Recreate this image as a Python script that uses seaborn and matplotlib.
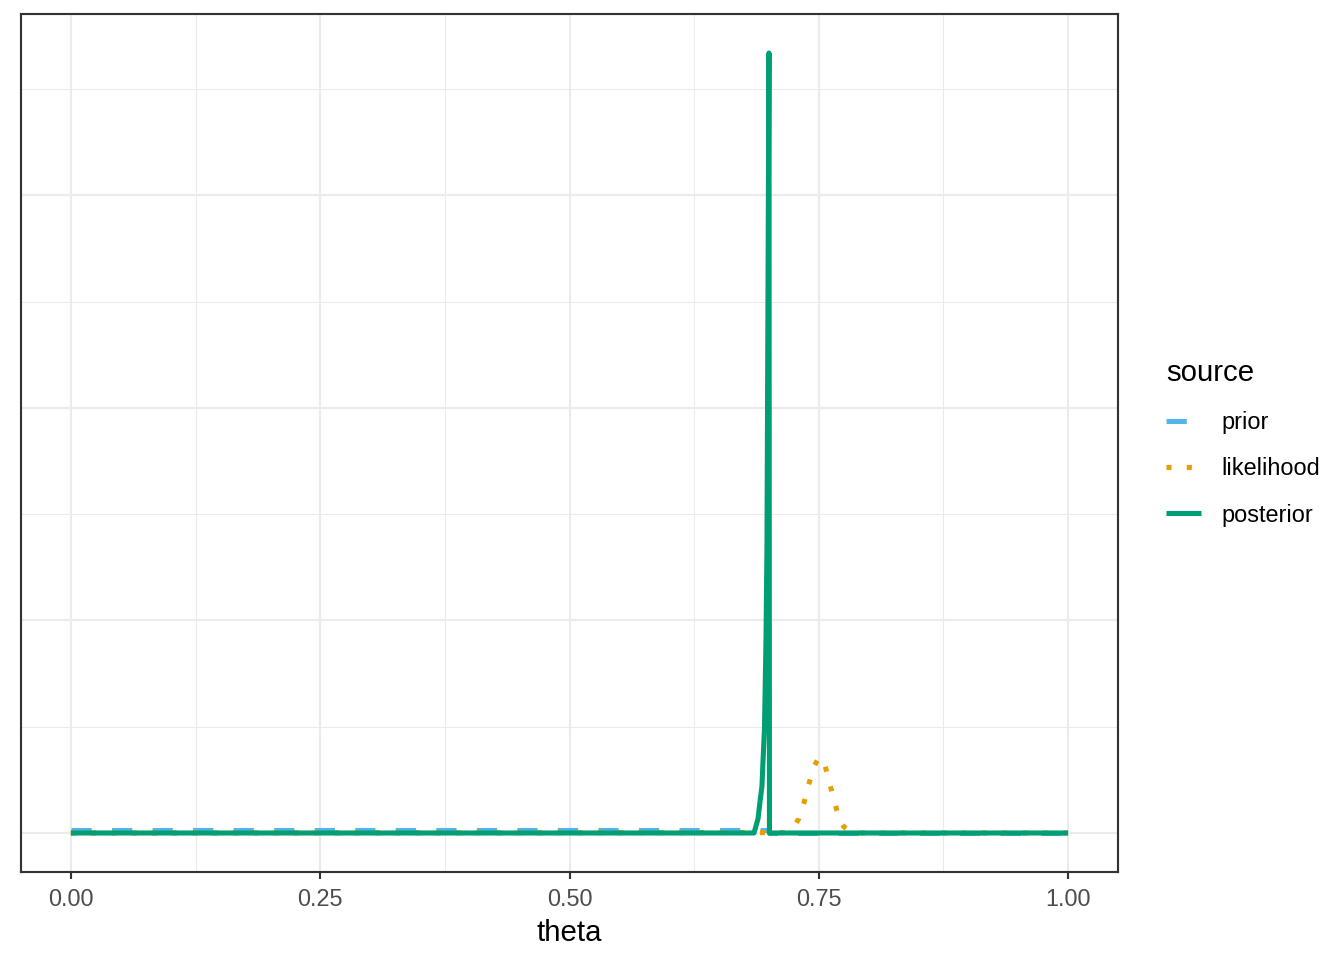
import pandas as pd
import matplotlib
matplotlib.use('Agg')
import matplotlib.pyplot as plt
from matplotlib.lines import Line2D
from matplotlib.ticker import MultipleLocator
import seaborn as sns

# values
prior_theta = [0.0, 0.7, 0.7, 1.0]
prior_density = [0.6, 0.6, 0.0, 0.0]

lik_theta = [0.0, 0.715, 0.720, 0.725, 0.730, 0.735, 0.740, 0.745, 0.750, 0.755,
             0.760, 0.765, 0.770, 0.775, 0.780, 0.785, 0.790, 1.0]
lik_density = [0.0, 0.1, 0.5, 1.4, 3.4, 7.0, 11.5, 15.6, 17.7, 17.0,
               12.5, 8.0, 3.6, 1.5, 0.6, 0.2, 0.0, 0.0]

post_theta = [0.0, 0.685, 0.689, 0.691, 0.693, 0.694, 0.6955, 0.697, 0.698,
              0.699, 0.700, 0.7005, 1.0]
post_density = [0.0, 0.0, 3.3, 7.3, 11.0, 16.7, 24.5, 45.0, 67.0,
                125.0, 183.5, 0.0, 0.0]

sources = ['prior', 'likelihood', 'posterior']
colours = {'prior': '#56B4E9', 'likelihood': '#E69F00', 'posterior': '#009E73'}
dash_styles = {'prior': (4, 4), 'likelihood': (1, 3), 'posterior': ''}

df = pd.concat([
    pd.DataFrame({'theta': prior_theta, 'density': prior_density, 'source': 'prior'}),
    pd.DataFrame({'theta': lik_theta, 'density': lik_density, 'source': 'likelihood'}),
    pd.DataFrame({'theta': post_theta, 'density': post_density, 'source': 'posterior'}),
], ignore_index=True)

sns.set_theme(style='white')
plt.rcParams['font.family'] = ['Liberation Sans', 'DejaVu Sans']
plt.rcParams['lines.solid_capstyle'] = 'butt'
plt.rcParams['lines.dash_capstyle'] = 'butt'
plt.rcParams['text.color'] = 'black'
plt.rcParams['axes.labelcolor'] = 'black'

fig = plt.figure(figsize=(7, 5), dpi=192)
ax = fig.add_axes([21 / 1344, 1 - 872 / 960, (1118 - 21) / 1344, (872 - 14) / 960])

lw = 1.9
sns.lineplot(data=df, x='theta', y='density', hue='source', style='source',
             hue_order=sources, style_order=sources, palette=colours,
             dashes=dash_styles, estimator=None, sort=False, linewidth=lw,
             legend=False, ax=ax)

ymax = df['density'].max()
ax.set_xlim(-0.05, 1.05)
ax.set_ylim(-0.05 * ymax, 1.05 * ymax)

ax.xaxis.set_major_locator(MultipleLocator(0.25))
ax.xaxis.set_minor_locator(MultipleLocator(0.125))
ax.yaxis.set_major_locator(MultipleLocator(50))
ax.yaxis.set_minor_locator(MultipleLocator(25))
ax.set_xticklabels([f'{t:.2f}' for t in ax.get_xticks()])

ax.grid(which='major', color='#EBEBEB', linewidth=0.8)
ax.grid(which='minor', color='#EBEBEB', linewidth=0.4)
ax.set_axisbelow(True)
for s in ax.spines.values():
    s.set_color('#333333')
    s.set_linewidth(0.8)

ax.tick_params(axis='x', which='major', length=2.75, width=0.8, color='#333333',
               labelsize=8.8, labelcolor='#4D4D4D', pad=3.3, bottom=True)
ax.tick_params(axis='x', which='minor', length=0)
ax.tick_params(axis='y', which='both', length=0, labelleft=False)

ax.set_xlabel('theta', fontsize=11, labelpad=2.9, color='black')
ax.set_ylabel('')

handles = [Line2D([], [], color=colours[s], linewidth=lw,
                  linestyle='-' if dash_styles[s] == '' else (0, dash_styles[s]))
           for s in sources]
leg = fig.legend(handles, sources, title='source', loc='center left',
                 bbox_to_anchor=(1166 / 1344, 1 - 443 / 960), frameon=False,
                 fontsize=8.8, title_fontsize=11, alignment='left',
                 borderpad=0, borderaxespad=0, handlelength=1.5, handletextpad=0.85,
                 labelspacing=1.0)
leg.get_title().set_color('black')
for t in leg.get_texts():
    t.set_color('black')

fig.savefig('out.png', dpi=192)
